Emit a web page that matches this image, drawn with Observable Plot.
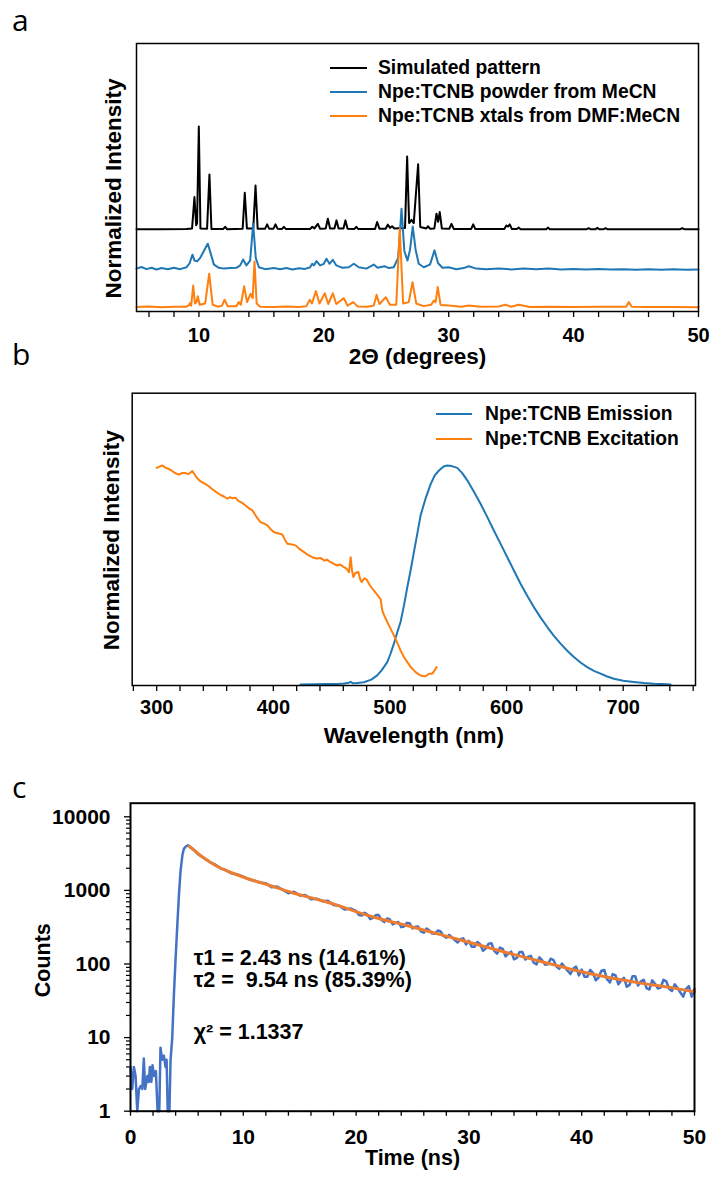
<!DOCTYPE html>
<html><head><meta charset="utf-8">
<script src="https://cdn.jsdelivr.net/npm/d3@7"></script>
<script src="https://cdn.jsdelivr.net/npm/@observablehq/plot@0.6"></script>
<style>
body{margin:0;background:#fff;}
#root{position:relative;width:713px;height:1179px;overflow:hidden;font-family:"Liberation Sans",Arial,sans-serif;background:#fff;}
.panel{position:absolute;left:0;}
.letter{position:absolute;font-family:"Open Sans",sans-serif;font-size:30px;line-height:30px;color:#000;}
.legend{position:absolute;font-weight:bold;font-size:19.3px;color:#000;}
.legend .row{display:flex;align-items:center;white-space:nowrap;}
</style></head><body><div id="root"></div>
<script>
// ---------- Panel a: PXRD ----------
const simulated = [[5,0.307],[7,0.307],[9.0,0.308],[9.45,0.31],[9.64,0.427],[9.78,0.322],[9.85,0.33],[9.99,0.69],[10.12,0.31],[10.65,0.309],[10.84,0.511],[11.0,0.308],[11.95,0.308],[12.1,0.316],[12.25,0.307],[13.5,0.309],[13.67,0.443],[13.84,0.31],[14.35,0.31],[14.53,0.47],[14.7,0.309],[15.3,0.309],[15.46,0.325],[15.62,0.309],[15.97,0.309],[16.13,0.325],[16.29,0.309],[16.65,0.308],[16.8,0.316],[16.95,0.308],[18.9,0.308],[19.07,0.316],[19.25,0.31],[19.52,0.327],[19.7,0.309],[20.15,0.31],[20.32,0.346],[20.5,0.31],[20.85,0.31],[21.01,0.34],[21.18,0.31],[21.57,0.31],[21.73,0.34],[21.9,0.309],[22.45,0.308],[22.6,0.316],[22.75,0.308],[24.1,0.308],[24.27,0.334],[24.45,0.309],[24.95,0.309],[25.12,0.324],[25.3,0.312],[25.47,0.318],[25.65,0.31],[26.5,0.312],[26.67,0.578],[26.83,0.33],[27.02,0.342],[27.2,0.33],[27.55,0.549],[27.72,0.315],[28.2,0.31],[28.35,0.318],[28.5,0.309],[28.85,0.31],[29.02,0.365],[29.15,0.335],[29.28,0.371],[29.45,0.31],[30.05,0.309],[30.22,0.327],[30.4,0.308],[31.8,0.308],[31.96,0.325],[32.12,0.308],[34.45,0.308],[34.62,0.321],[34.75,0.317],[34.89,0.325],[35.05,0.308],[35.45,0.308],[35.6,0.313],[35.75,0.307],[37.8,0.307],[37.96,0.313],[38.1,0.307],[41.05,0.307],[41.2,0.311],[41.35,0.307],[41.75,0.307],[41.9,0.312],[42.05,0.307],[42.4,0.307],[42.57,0.311],[42.7,0.307],[48.55,0.307],[48.7,0.311],[48.85,0.307],[50,0.307]];
const powderMeCN = [[5,0.16],[5.4,0.166],[5.8,0.158],[6.2,0.163],[6.6,0.157],[7.0,0.162],[7.5,0.158],[8.0,0.163],[8.5,0.158],[9.0,0.165],[9.25,0.18],[9.48,0.212],[9.65,0.19],[9.86,0.187],[10.1,0.2],[10.5,0.235],[10.71,0.253],[10.95,0.215],[11.2,0.175],[11.6,0.163],[12.0,0.16],[12.5,0.162],[13.0,0.163],[13.3,0.172],[13.54,0.194],[13.8,0.172],[14.1,0.19],[14.34,0.327],[14.55,0.2],[14.8,0.165],[15.3,0.158],[16.0,0.162],[16.5,0.158],[17.0,0.162],[17.5,0.157],[18.0,0.161],[18.5,0.159],[18.9,0.165],[19.07,0.178],[19.2,0.172],[19.41,0.188],[19.7,0.172],[20.0,0.178],[20.21,0.197],[20.45,0.178],[20.72,0.193],[21.0,0.172],[21.5,0.163],[22.0,0.165],[22.4,0.178],[22.8,0.165],[23.4,0.16],[24.0,0.175],[24.3,0.163],[24.86,0.169],[25.2,0.162],[25.6,0.165],[25.95,0.2],[26.22,0.383],[26.45,0.225],[26.7,0.19],[26.9,0.23],[27.12,0.317],[27.35,0.23],[27.6,0.178],[28.0,0.165],[28.5,0.175],[28.86,0.228],[29.15,0.18],[29.5,0.163],[30.0,0.165],[30.6,0.158],[31.2,0.162],[31.6,0.169],[32.2,0.16],[33,0.158],[34,0.16],[35,0.157],[36,0.16],[37,0.158],[38,0.16],[39,0.157],[40,0.159],[41,0.157],[42,0.159],[43,0.157],[44,0.158],[45,0.156],[46,0.158],[47,0.156],[48,0.158],[49,0.156],[50,0.157]];
const xtalsDMF = [[5,0.017],[6,0.019],[7,0.016],[8,0.018],[9.0,0.018],[9.2,0.024],[9.27,0.031],[9.38,0.022],[9.54,0.097],[9.68,0.03],[9.8,0.035],[9.91,0.057],[10.05,0.025],[10.5,0.03],[10.82,0.141],[11.1,0.025],[11.5,0.018],[11.85,0.022],[12.05,0.044],[12.3,0.02],[13.0,0.02],[13.19,0.035],[13.35,0.025],[13.62,0.094],[13.85,0.035],[14.13,0.066],[14.3,0.05],[14.45,0.187],[14.62,0.03],[14.9,0.018],[16,0.017],[17,0.019],[18,0.017],[18.6,0.02],[18.88,0.044],[19.05,0.03],[19.36,0.076],[19.65,0.03],[20.08,0.068],[20.35,0.028],[20.72,0.068],[21.0,0.028],[21.6,0.05],[21.9,0.022],[22.35,0.035],[22.7,0.019],[23.5,0.018],[24.0,0.022],[24.22,0.062],[24.45,0.028],[24.96,0.053],[25.3,0.025],[25.8,0.025],[26.08,0.309],[26.35,0.03],[26.8,0.035],[27.1,0.109],[27.4,0.03],[28.0,0.02],[28.6,0.025],[28.8,0.041],[28.95,0.035],[29.12,0.091],[29.35,0.024],[30.0,0.022],[31,0.018],[31.6,0.022],[32.5,0.018],[34.0,0.019],[34.54,0.025],[35.0,0.018],[35.6,0.025],[36.5,0.017],[38,0.018],[40,0.017],[42,0.018],[44.2,0.018],[44.42,0.035],[44.65,0.018],[46,0.017],[48,0.017],[50,0.016]];
const seriesA = ["Simulated pattern", "Npe:TCNB powder from MeCN", "Npe:TCNB xtals from DMF:MeCN"];
const colorsA = ["#000000", "#1f77b4", "#ff7f0e"];
const xMajorA = [10, 20, 30, 40, 50];
const xMinorA = [6, 8, 12, 14, 16, 18, 22, 24, 26, 28, 32, 34, 36, 38, 42, 44, 46, 48];

// ---------- Panel b: emission / excitation ----------
const emission = [[423.4,0.0],[435,0.001],[445,0.002],[455,0.002],[460.5,0.004],[464,0.006],[466.3,0.012],[468,0.005],[472,0.006],[477.7,0.01],[484,0.022],[489.1,0.041],[493,0.065],[497.7,0.102],[500.5,0.14],[503.4,0.186],[506.3,0.238],[509.1,0.285],[512,0.36],[514.9,0.444],[517.7,0.52],[520.6,0.605],[523.5,0.69],[526.3,0.772],[530.6,0.85],[534.9,0.915],[538.5,0.955],[542,0.977],[546,0.995],[549.2,1.0],[553,0.997],[557.7,0.989],[562,0.965],[566.3,0.932],[572,0.88],[577.7,0.825],[583.4,0.765],[589.1,0.703],[594.9,0.642],[600.6,0.581],[606.3,0.52],[612,0.46],[617.7,0.405],[623.4,0.353],[629.1,0.306],[634.9,0.262],[640.6,0.222],[646.3,0.186],[652,0.154],[657.7,0.125],[663.4,0.1],[669.1,0.079],[674.9,0.062],[680.6,0.049],[686.3,0.036],[692,0.026],[700,0.017],[709.1,0.011],[717.7,0.006],[726.3,0.003],[733,0.0015],[740.6,0.0]];
const excitation = [[300,0.989],[302.5,0.995],[304.9,1.0],[307.5,0.99],[310,0.985],[312,0.98],[315,0.968],[317,0.962],[319.1,0.958],[321.5,0.965],[324.9,0.965],[327,0.96],[330.6,0.974],[333,0.955],[335,0.94],[337.7,0.927],[340,0.92],[342,0.915],[344.9,0.904],[347,0.895],[349.1,0.886],[352,0.875],[355,0.865],[358,0.857],[360.6,0.848],[363,0.855],[365,0.85],[367.7,0.852],[370,0.838],[373,0.83],[376.3,0.817],[379,0.805],[382,0.795],[385,0.77],[387,0.755],[389.1,0.741],[392,0.735],[394.9,0.726],[397.5,0.71],[400.6,0.695],[404,0.69],[407.7,0.685],[410,0.66],[412,0.642],[415,0.64],[419.1,0.635],[422,0.62],[426.3,0.604],[430,0.59],[433.4,0.581],[437,0.575],[440.6,0.577],[444,0.565],[446,0.57],[449.1,0.558],[452,0.55],[454.9,0.543],[457,0.548],[460.6,0.536],[462.5,0.53],[464.9,0.513],[466.3,0.581],[467.5,0.52],[468.6,0.49],[470.5,0.51],[472.9,0.513],[474.5,0.48],[475.7,0.467],[478,0.485],[480,0.479],[482.5,0.455],[484.9,0.437],[487.5,0.42],[490.6,0.399],[492,0.39],[493.4,0.338],[495.5,0.31],[497.7,0.285],[500.5,0.255],[503.4,0.224],[506.3,0.19],[509.1,0.155],[512,0.125],[514.9,0.102],[518,0.078],[520.6,0.064],[522,0.056],[525,0.045],[527.7,0.038],[530.6,0.037],[533.4,0.049],[536.3,0.049],[538,0.062],[540,0.079]];
const seriesB = ["Npe:TCNB Emission", "Npe:TCNB Excitation"];
const colorsB = ["#1f77b4", "#ff7f0e"];
const xMajorB = [300, 400, 500, 600, 700];
const xMinorB = [280, 320, 340, 360, 380, 420, 440, 460, 480, 520, 540, 560, 580, 620, 640, 660, 680, 720, 740, 760];

// ---------- Panel c: TCSPC decay ----------
const decay = [[0,4],[0.15,2],[0.3,4],[0.45,3],[0.6,1],[0.75,2],[0.9,2.2],[1.05,2],[1.18,5.2],[1.3,2],[1.5,3],[1.62,2.5],[1.72,4],[1.85,2.5],[1.95,4.2],[2.1,3],[2.25,3.5],[2.4,1],[2.55,1],[2.66,7.3],[2.8,5],[2.96,5.7],[3.1,4],[3.2,5],[3.3,1],[3.45,1],[3.55,4.9],[3.7,10],[3.85,39],[4.0,120],[4.14,316],[4.3,900],[4.44,1860],[4.6,3000],[4.73,3670],[4.9,3950],[5.1,4100],[5.3,3850],[5.5,3690],[6.0,3090],[6.5,2780],[7.0,2443],[7.5,2244],[8.0,1991],[8.5,1866],[9.0,1690],[9.5,1652],[10.0,1542],[10.5,1409],[11.0,1355],[11.5,1268],[12.0,1250],[12.5,1103],[13.0,1129],[13.5,1017],[14.0,917],[14.5,959],[15.0,855],[15.5,863],[16.0,759],[16.5,772],[17.0,713],[17.5,722],[18.0,632],[18.5,620],[19.0,548],[19.5,568],[20.0,525],[20.25,464],[20.5,456],[20.75,498],[21.0,470],[21.25,408],[21.5,423],[21.75,463],[22.0,462],[22.25,395],[22.5,371],[22.75,415],[23.0,402],[23.25,344],[23.5,361],[23.75,372],[24.0,317],[24.25,324],[24.5,362],[24.75,357],[25.0,305],[25.25,320],[25.5,323],[25.75,278],[26.0,266],[26.25,304],[26.5,285],[26.75,259],[27.0,258],[27.25,285],[27.5,276],[27.75,240],[28.0,227],[28.25,249],[28.5,230],[28.75,211],[29.0,196],[29.25,217],[29.5,223],[29.75,184],[30.0,206],[30.25,172],[30.5,171],[30.75,199],[31.0,185],[31.25,151],[31.5,163],[31.75,189],[32.0,191],[32.25,151],[32.5,138],[32.75,167],[33.0,160],[33.25,127],[33.5,138],[33.75,147],[34.0,116],[34.25,121],[34.5,146],[34.75,145],[35.0,115],[35.25,126],[35.5,129],[35.75,104],[36.0,99],[36.25,123],[36.5,112],[36.75,98],[37.0,99],[37.25,118],[37.5,113],[37.75,93],[38.0,86],[38.25,101],[38.5,91],[38.75,81],[39.0,73],[39.25,87],[39.5,92],[39.75,70],[40.0,84],[40.25,67],[40.5,67],[40.75,83],[41.0,76],[41.25,60],[41.5,66],[41.75,81],[42.0,83],[42.25,62],[42.5,56],[42.75,73],[43.0,70],[43.25,53],[43.5,60],[43.75,65],[44.0,49],[44.25,52],[44.5,68],[44.75,68],[45.0,51],[45.25,58],[45.5,61],[45.75,47],[46.0,45],[46.25,60],[46.5,54],[46.75,46.5],[47.0,48],[47.25,61],[47.5,58],[47.75,46],[48.0,43],[48.25,53],[48.5,47],[48.75,41],[49.0,36],[49.25,46],[49.5,50],[49.75,36],[50.0,46]];
const fit = [[5.2,3981],[5.6,3548],[6.2,2979],[7.0,2455],[7.7,2113],[8.5,1862],[9.2,1683],[10.9,1365],[12.1,1202],[14.2,944],[16.9,729],[18.6,610],[20.1,507],[21.6,432],[24.5,333],[27.5,251],[30.5,188],[33.4,142],[36.4,108],[39.3,83],[42.3,66],[45.2,55],[48.2,47],[50,42]];
const annotationsC = [
  {t: 5.6, c: 122, label: "τ1 = 2.43 ns (14.61%)"},
  {t: 5.6, c: 60, label: "τ2 =  9.54 ns (85.39%)"},
  {t: 5.6, c: 11.8, label: "χ² = 1.1337"}
];
const xMajorC = [0, 10, 20, 30, 40, 50];
const xMinorC = [2, 4, 6, 8, 12, 14, 16, 18, 22, 24, 26, 28, 32, 34, 36, 38, 42, 44, 46, 48];
const yMajorC = [1, 10, 100, 1000, 10000];
const yMinorC = [2,3,4,5,6,7,8,9,20,30,40,50,60,70,80,90,200,300,400,500,600,700,800,900,2000,3000,4000,5000,6000,7000,8000,9000];

// ---------- build ----------
const root = document.getElementById("root");
const FONT = "Liberation Sans, Arial, sans-serif";
const baseStyle = {fontFamily: FONT, fontSize: "20px", fontWeight: "bold", color: "black", background: "white", overflow: "visible"};
const X = d => d[0], Y = d => d[1];

function place(el, top) {
  const wrap = document.createElement("div");
  wrap.className = "panel";
  wrap.style.top = top + "px";
  wrap.appendChild(el);
  root.appendChild(wrap);
}
function letter(ch, left, top) {
  const d = document.createElement("div");
  d.className = "letter";
  d.textContent = ch;
  d.style.left = left + "px";
  d.style.top = top + "px";
  root.appendChild(d);
}
function legend(names, colors, left, top, rowH, lineW, gap) {
  const lg = document.createElement("div");
  lg.className = "legend";
  lg.style.left = left + "px";
  lg.style.top = top + "px";
  names.forEach((n, i) => {
    const r = document.createElement("div");
    r.className = "row";
    r.style.height = rowH + "px";
    r.innerHTML = `<svg width="${lineW}" height="4" style="margin-right:${gap}px"><line x1="0" y1="2" x2="${lineW}" y2="2" stroke="${colors[i]}" stroke-width="2.2"/></svg><span>${n}</span>`;
    lg.appendChild(r);
  });
  root.appendChild(lg);
}

// Panel a
const plotA = Plot.plot({
  width: 713, height: 380,
  marginLeft: 136, marginRight: 15, marginTop: 43, marginBottom: 69,
  x: {domain: [5, 50]},
  y: {domain: [0, 1], axis: null},
  style: baseStyle,
  marks: [
    Plot.axisX({ticks: xMinorA, tickSize: 6, strokeWidth: 1.3, tickFormat: () => "", label: null}),
    Plot.axisX({ticks: xMajorA, tickSize: 6, tickPadding: 10, strokeWidth: 1.3, label: null, fontSize: 20, fontWeight: "bold"}),
    Plot.line(simulated, {x: X, y: Y, stroke: colorsA[0], strokeWidth: 2}),
    Plot.line(powderMeCN, {x: X, y: Y, stroke: colorsA[1], strokeWidth: 2}),
    Plot.line(xtalsDMF, {x: X, y: Y, stroke: colorsA[2], strokeWidth: 2}),
    Plot.frame({stroke: "black", strokeWidth: 1.5}),
    Plot.text(["2Θ (degrees)"], {frameAnchor: "bottom", dy: 52, fontSize: 22.5, fontWeight: "bold"}),
    Plot.text(["Normalized Intensity"], {frameAnchor: "left", textAnchor: "middle", dx: -23, dy: 11, rotate: -90, fontSize: 22.5, fontWeight: "bold"})
  ]
});
place(plotA, 0);

// Panel b
const plotB = Plot.plot({
  width: 713, height: 390,
  marginLeft: 131.7, marginRight: 18, marginTop: 22.7, marginBottom: 75,
  x: {domain: [279, 762]},
  y: {domain: [-0.005, 1.33], axis: null},
  style: baseStyle,
  marks: [
    Plot.axisX({ticks: xMinorB, tickSize: 6, strokeWidth: 1.3, tickFormat: () => "", label: null}),
    Plot.axisX({ticks: xMajorB, tickSize: 6, tickPadding: 8, strokeWidth: 1.3, label: null, fontSize: 20, fontWeight: "bold"}),
    Plot.line(emission, {x: X, y: Y, stroke: colorsB[0], strokeWidth: 2}),
    Plot.line(excitation, {x: X, y: Y, stroke: colorsB[1], strokeWidth: 2}),
    Plot.frame({stroke: "black", strokeWidth: 1.5}),
    Plot.text(["Wavelength (nm)"], {frameAnchor: "bottom", dy: 57, fontSize: 22.5, fontWeight: "bold"}),
    Plot.text(["Normalized Intensity"], {frameAnchor: "left", textAnchor: "middle", dx: -20, dy: 1, rotate: -90, fontSize: 22.5, fontWeight: "bold"})
  ]
});
place(plotB, 370);

// Panel c
const plotC = Plot.plot({
  width: 713, height: 419,
  marginLeft: 130, marginRight: 19, marginTop: 42.7, marginBottom: 68.3,
  x: {domain: [0, 50]},
  y: {type: "log", domain: [1, 15300]},
  style: baseStyle,
  marks: [
    Plot.axisX({ticks: xMinorC, tickSize: 5, strokeWidth: 1.3, tickFormat: () => "", label: null}),
    Plot.axisX({ticks: xMajorC, tickSize: 5, tickPadding: 13, strokeWidth: 1.3, label: null, fontSize: 21, fontWeight: "bold"}),
    Plot.axisY({ticks: yMinorC, tickSize: 4, strokeWidth: 1.2, tickFormat: () => "", label: null}),
    Plot.axisY({ticks: yMajorC, tickSize: 6, tickPadding: 14, strokeWidth: 1.3, tickFormat: d => String(d), label: null, fontSize: 21, fontWeight: "bold"}),
    Plot.line(decay, {x: X, y: Y, stroke: "#4472C4", strokeWidth: 2.5}),
    Plot.line(fit, {x: X, y: Y, stroke: "#ED7D31", strokeWidth: 3, curve: "monotone-x"}),
    Plot.frame({stroke: "black", strokeWidth: 2}),
    Plot.text(annotationsC, {x: "t", y: "c", text: "label", textAnchor: "start", fontSize: 21.5, fontWeight: "bold"}),
    Plot.text(["Time (ns)"], {frameAnchor: "bottom", dy: 54, fontSize: 21.5, fontWeight: "bold"}),
    Plot.text(["Counts"], {frameAnchor: "left", textAnchor: "middle", dx: -87, dy: 3, rotate: -90, fontSize: 21.5, fontWeight: "bold"})
  ]
});
place(plotC, 760);

legend(seriesA, colorsA, 330, 56, 24, 37, 11);
legend(seriesB, colorsB, 436, 401.5, 25, 36, 13);
letter("a", 12, 5);
letter("b", 12, 339);
letter("c", 12, 772);
</script></body></html>
